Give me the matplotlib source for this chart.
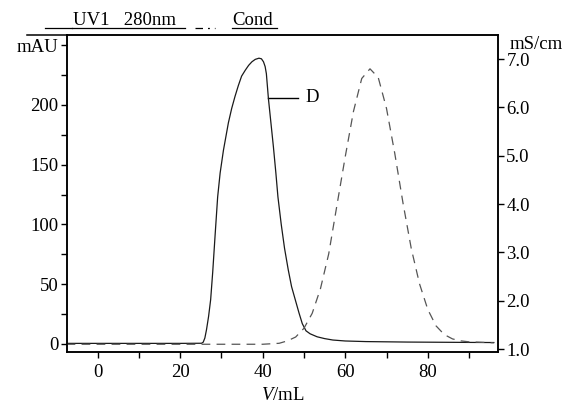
import numpy as np
import matplotlib.pyplot as plt
from matplotlib.lines import Line2D
from matplotlib.ticker import MultipleLocator

plt.rcParams['font.family'] = ['Liberation Serif', 'DejaVu Serif']
plt.rcParams['mathtext.fontset'] = 'custom'
plt.rcParams['mathtext.it'] = 'Liberation Serif:italic'

# UV1 280nm trace (mAU)
uv_v = [-7.5, 0, 10, 20, 25.2, 25.6, 26.0, 26.4, 26.9, 27.4, 27.9, 28.5, 29.1, 29.7,
        30.5, 31.7, 32.5, 33.3, 34.1, 34.9, 35.8, 36.6, 37.4, 38.2, 39.1, 39.7,
        40.2, 40.6, 40.9, 41.4, 42.0, 42.6, 43.2, 43.7, 44.5, 45.3, 46.2, 47.0,
        47.9, 48.8, 49.6, 50.5, 51.5, 53.2, 55, 57, 60, 65, 75, 85, 96]
uv_mau = [0.5, 0.5, 0.5, 0.5, 0.6, 1.5, 5, 12, 23, 37, 60, 92, 123, 143,
          162, 185, 197, 207, 216, 224, 229, 233, 236, 238, 239, 238.5,
          236, 232, 226, 205, 185, 165, 143, 123, 100, 80, 62, 48,
          37, 26, 17, 11, 8.5, 6, 4.5, 3.3, 2.5, 2, 1.6, 1.4, 1.2]

# conductivity trace (mS/cm)
cond_v = [-7.5, 20, 40, 44, 46, 48, 50, 52, 54, 56, 58, 60, 62, 64, 66,
          68, 70, 72, 74, 76, 78, 80, 82, 84, 86, 88, 90, 93, 96]
cond_ms = [1.1, 1.1, 1.1, 1.12, 1.17, 1.25, 1.43, 1.74, 2.25, 2.97, 3.98, 4.98, 5.92,
           6.6, 6.8, 6.62, 5.98, 5.05, 4.02, 3.08, 2.35, 1.82, 1.48, 1.3, 1.21,
           1.17, 1.15, 1.14, 1.13]

left_ticks = [0, 50, 100, 150, 200, 250]
left_labels = ['0', '50', '100', '150', '200', 'mAU']
right_ticks = [1, 2, 3, 4, 5, 6, 7]
right_labels = ['1.0', '2.0', '3.0', '4.0', '5.0', '6.0', '7.0']
x_ticks = [0, 20, 40, 60, 80]

fig = plt.figure(figsize=(5.71, 4.05), dpi=100)
ax = fig.add_axes([0.1173, 0.1309, 0.7548, 0.7827])
ax2 = ax.twinx()

ax.plot(uv_v, uv_mau, color='#1a1a1a', lw=0.9, zorder=3)
ax2.plot(cond_v, cond_ms, color='#555555', lw=0.9, dashes=(7, 5))

ax.set_xlim(-7.4, 97.0)
ax.set_ylim(-6.7, 258.4)
ax2.set_ylim(0.94, 7.5)

ax.set_xticks(x_ticks)
ax.xaxis.set_minor_locator(MultipleLocator(10))
ax.set_yticks(left_ticks)
ax.set_yticklabels(left_labels)
ax.yaxis.set_minor_locator(MultipleLocator(25))
ax2.set_yticks(right_ticks)
ax2.set_yticklabels(right_labels)

for a in (ax, ax2):
    a.tick_params(which='both', direction='out', labelsize=13.5, width=1, colors='black')
    a.tick_params(which='major', length=4, pad=2)
    a.tick_params(which='minor', length=4)
    for s in a.spines.values():
        s.set_linewidth(1.1)
ax.tick_params(axis='x', pad=5)

ax.set_xlabel('$\\mathit{V}$/mL', fontsize=13.5, labelpad=4)

# peak label
ax.plot([41.3, 48.6], [206, 206], color='black', lw=1)
ax.text(50.3, 206, 'D', fontsize=13.5, va='center', ha='left')

fig.text(0.893, 0.868, 'mS/cm', fontsize=13.5, ha='left', va='bottom')

# top rule extends to the left of the axes
fig.add_artist(Line2D([27 / 571, 0.1173], [0.9136, 0.9136], color='black', lw=1.1))

# legend line
yb = 1 - 25 / 405
yu = 1 - 27.5 / 405
fig.add_artist(Line2D([45 / 571, 72 / 571], [yu, yu], color='black', lw=0.9))
fig.text(73 / 571, yb, 'UV1   280nm', fontsize=13.5, ha='left', va='baseline')
fig.add_artist(Line2D([72 / 571, 185 / 571], [yu, yu], color='black', lw=0.9))
fig.add_artist(Line2D([195 / 571, 215 / 571], [yu, yu], color='black', lw=0.9,
                      dashes=(6, 4, 1.5, 4)))
fig.text(232 / 571, yb, 'Cond', fontsize=13.5, ha='left', va='baseline')
fig.add_artist(Line2D([232 / 571, 277 / 571], [yu, yu], color='black', lw=0.9))

fig.savefig('out.png', dpi=100)
